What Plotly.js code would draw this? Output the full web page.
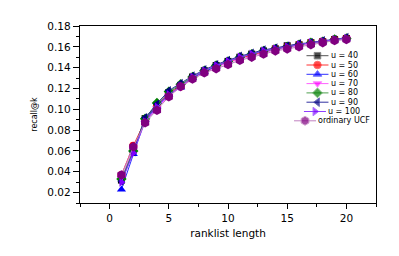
<!DOCTYPE html>
<html>
<head>
<meta charset="utf-8">
<script src="https://cdn.plot.ly/plotly-3.0.1.min.js"></script>
<style>
  html, body { margin: 0; padding: 0; background: #fff; }
  #chart { width: 399px; height: 256px; }
</style>
</head>
<body>
<div id="chart"></div>
<script>
var ranks = [1, 2, 3, 4, 5, 6, 7, 8, 9, 10, 11, 12, 13, 14, 15, 16, 17, 18, 19, 20];

var seriesNames = ['u = 40', 'u = 50', 'u = 60', 'u = 70', 'u = 80', 'u = 90', 'u = 100', 'ordinary UCF'];

var u40  = [0.032, 0.061, 0.091, 0.104, 0.116, 0.123, 0.131, 0.137, 0.142, 0.146, 0.150, 0.153, 0.156, 0.158, 0.161, 0.162, 0.164, 0.165, 0.167, 0.168];
var u50  = [0.037, 0.065, 0.089, 0.103, 0.115, 0.122, 0.130, 0.136, 0.141, 0.145, 0.149, 0.152, 0.155, 0.158, 0.160, 0.162, 0.164, 0.165, 0.167, 0.168];
var u60  = [0.023, 0.057, 0.090, 0.103, 0.114, 0.121, 0.130, 0.136, 0.141, 0.146, 0.150, 0.153, 0.156, 0.158, 0.160, 0.162, 0.164, 0.165, 0.167, 0.168];
var u70  = [0.034, 0.062, 0.088, 0.101, 0.113, 0.121, 0.129, 0.135, 0.140, 0.145, 0.148, 0.151, 0.154, 0.157, 0.159, 0.161, 0.163, 0.165, 0.166, 0.168];
var u80  = [0.033, 0.060, 0.091, 0.106, 0.117, 0.124, 0.131, 0.137, 0.142, 0.146, 0.150, 0.153, 0.156, 0.158, 0.160, 0.162, 0.164, 0.165, 0.167, 0.168];
var u90  = [0.031, 0.059, 0.092, 0.105, 0.118, 0.125, 0.132, 0.138, 0.143, 0.147, 0.151, 0.154, 0.157, 0.159, 0.161, 0.163, 0.164, 0.166, 0.167, 0.169];
var u100 = [0.030, 0.058, 0.088, 0.102, 0.114, 0.122, 0.131, 0.137, 0.142, 0.146, 0.150, 0.153, 0.156, 0.158, 0.160, 0.162, 0.164, 0.165, 0.167, 0.168];
var ucf  = [0.037, 0.064, 0.087, 0.099, 0.112, 0.122, 0.129, 0.135, 0.139, 0.143, 0.147, 0.150, 0.153, 0.156, 0.158, 0.160, 0.162, 0.164, 0.166, 0.167];

var seriesValues = [u40, u50, u60, u70, u80, u90, u100, ucf];

var seriesColors = ['#000000', '#ff0000', '#0000ff', '#ff00ff', '#008000', '#000080', '#8000ff', '#800080'];
var lineColors   = ['#555555', '#ff3030', '#3030ff', '#ff60ff', '#50a050', '#3030a0', '#9040ff', '#c080c0'];
var seriesSymbols = ['square', 'circle', 'triangle-up', 'triangle-down', 'diamond', 'triangle-left', 'triangle-right', 'hexagon'];
var markerSizes = [7, 8, 8, 8, 8, 8, 8, 9.5];

var xTickVals = [0, 5, 10, 15, 20];

var fontFam = '"DejaVu Sans", Arial, sans-serif';

var data = [];
for (var i = 0; i < seriesNames.length; i++) {
  data.push({
    x: ranks,
    y: seriesValues[i],
    type: 'scatter',
    mode: 'lines+markers',
    name: seriesNames[i],
    line: { color: lineColors[i], width: 1 },
    marker: { color: seriesColors[i], symbol: seriesSymbols[i], size: markerSizes[i], opacity: 1 },
    showlegend: false
  });
}

// hand made legend, drawn in pixel coords of the plot area (x3/y3)
var ctx = document.createElement('canvas').getContext('2d');
ctx.font = '8px "DejaVu Sans"';
var annots = [];
for (var j = 0; j < seriesNames.length; j++) {
  var rowY = 29.7 + 9.3 * j;
  var w = ctx.measureText(seriesNames[j]).width;
  var left = 264 - w / 2;
  data.push({
    x: [left - 24, left - 13, left - 2],
    y: [rowY, rowY, rowY],
    xaxis: 'x3', yaxis: 'y3',
    type: 'scatter',
    mode: 'lines+markers',
    line: { color: lineColors[j], width: 1 },
    marker: { color: seriesColors[j], symbol: seriesSymbols[j], size: [0, markerSizes[j] - 0.5, 0] },
    showlegend: false,
    hoverinfo: 'skip'
  });
  annots.push({
    xref: 'x3', yref: 'y3', x: 264, y: rowY,
    text: seriesNames[j], showarrow: false,
    xanchor: 'center', yanchor: 'middle',
    font: { family: fontFam, size: 8, color: '#000' }
  });
}

var layout = {
  width: 399,
  height: 256,
  margin: { l: 80, r: 23, t: 26, b: 53 },
  paper_bgcolor: '#fff',
  plot_bgcolor: '#fff',
  showlegend: false,
  font: { family: fontFam, size: 10, color: '#000' },
  xaxis: {
    range: [-2.5, 22.5],
    tickvals: xTickVals,
    ticks: 'outside', ticklen: 5, tickwidth: 1, tickcolor: '#000',
    minor: { dtick: 2.5, tick0: 0, ticks: 'outside', ticklen: 3, tickcolor: '#000' },
    showline: true, linecolor: '#000', linewidth: 1.3, mirror: true,
    showgrid: false, zeroline: false,
    tickfont: { size: 10.5 },
    title: { text: 'ranklist length', font: { size: 10.5 }, standoff: 6 }
  },
  yaxis: {
    range: [0.01, 0.18],
    tick0: 0.02, dtick: 0.02, tickformat: '.2f',
    ticks: 'outside', ticklen: 6, tickwidth: 1, tickcolor: '#000',
    minor: { dtick: 0.01, tick0: 0.01, ticks: 'outside', ticklen: 3, tickcolor: '#000' },
    showline: true, linecolor: '#000', linewidth: 1.3, mirror: true,
    showgrid: false, zeroline: false,
    tickfont: { size: 10.5 },
    title: { text: 'recall@k', font: { size: 8 }, standoff: 8 }
  },
  xaxis2: {
    overlaying: 'x', side: 'top', anchor: 'y',
    range: [-2.5, 22.5], tick0: 0, dtick: 2.5,
    ticks: 'inside', ticklen: 4, tickcolor: '#000',
    showticklabels: false, showgrid: false, zeroline: false, showline: false
  },
  yaxis2: {
    overlaying: 'y', side: 'right', anchor: 'x',
    range: [0.01, 0.18], tick0: 0.01, dtick: 0.01,
    ticks: 'inside', ticklen: 4, tickcolor: '#000',
    showticklabels: false, showgrid: false, zeroline: false, showline: false
  },
  xaxis3: { overlaying: 'x', anchor: 'y3', range: [0, 296], visible: false, fixedrange: true },
  yaxis3: { overlaying: 'y', anchor: 'x3', range: [177, 0], visible: false, fixedrange: true },
  annotations: annots
};

Plotly.newPlot('chart', data, layout, { staticPlot: true, displayModeBar: false });
</script>
</body>
</html>
